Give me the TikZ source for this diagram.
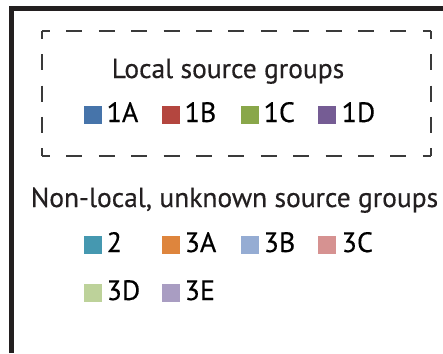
\documentclass[tikz,border=0pt]{standalone}
\usepackage{fontspec}
\setmainfont[FakeBold=0.4]{PT Sans}
\definecolor{framec}{HTML}{231F20}
\definecolor{dashc}{HTML}{3A3A3A}
\definecolor{txt}{HTML}{231F20}
\definecolor{cA}{HTML}{4674AA}
\definecolor{cB}{HTML}{B4463F}
\definecolor{cC}{HTML}{89A74A}
\definecolor{cD}{HTML}{755C94}
\definecolor{cT}{HTML}{4598B0}
\definecolor{cO}{HTML}{DE853D}
\definecolor{cLB}{HTML}{95ACD3}
\definecolor{cP}{HTML}{D69291}
\definecolor{cLG}{HTML}{BDD29A}
\definecolor{cL}{HTML}{A99DC2}
\begin{document}
\begin{tikzpicture}[x=1pt,y=-1pt,
  hdr/.style={anchor=base, inner sep=0, text=txt, font=\fontsize{27.5}{30}\selectfont},
  lab/.style={anchor=base west, inner sep=0, text=black, font=\fontsize{28}{30}\selectfont},
  swatch/.style={draw=none, minimum size=18pt, inner sep=0, anchor=north west},
  hdash/.style={draw=dashc, line width=1.5pt, dash pattern=on 16pt off 16.4pt, dash phase=8pt},
  vdash/.style={draw=dashc, line width=1.5pt, dash pattern=on 16pt off 15.25pt, dash phase=8pt}]
\useasboundingbox (0,0) rectangle (443,353);
\fill[white] (0,0) rectangle (443,353);
% frame
\draw[framec, line width=4.5pt] (11.5,353) -- (11.5,8.5) -- (443,8.5);
% dashed box
\coordinate (tl) at (42,31);
\coordinate (tr) at (431,31);
\coordinate (br) at (431,156);
\coordinate (bl) at (42,156);
\draw[hdash] (tl) -- (tr);
\draw[hdash] (bl) -- (br);
\draw[vdash] (tl) -- (bl);
\draw[vdash] (tr) -- (br);
% local
\node[hdr] (h1) at (228,78) {Local source groups};
\node[swatch, fill=cA] (s1A) at (84,106) {};
\node[lab] (l1A) at (106.5,122) {1A};
\node[swatch, fill=cB] (s1B) at (162,106) {};
\node[lab] (l1B) at (184.5,122) {1B};
\node[swatch, fill=cC] (s1C) at (240.5,106) {};
\node[lab] (l1C) at (263.5,122) {1C};
\node[swatch, fill=cD] (s1D) at (318,106) {};
\node[lab] (l1D) at (341.5,122) {1D};
% non-local
\node[hdr] (h2) at (234.5,207) {Non-local, unknown source groups};
\node[swatch, fill=cT] (s2) at (84,235.5) {};
\node[lab] (l2) at (106.5,252) {2};
\node[swatch, fill=cO] (s3A) at (162,235.5) {};
\node[lab] (l3A) at (184.5,252) {3A};
\node[swatch, fill=cLB] (s3B) at (240.5,235.5) {};
\node[lab] (l3B) at (263.5,252) {3B};
\node[swatch, fill=cP] (s3C) at (318,235.5) {};
\node[lab] (l3C) at (341.5,252) {3C};
\node[swatch, fill=cLG] (s3D) at (84,284) {};
\node[lab] (l3D) at (106.5,300) {3D};
\node[swatch, fill=cL] (s3E) at (162,284) {};
\node[lab] (l3E) at (184.5,300) {3E};
\end{tikzpicture}
\end{document}
